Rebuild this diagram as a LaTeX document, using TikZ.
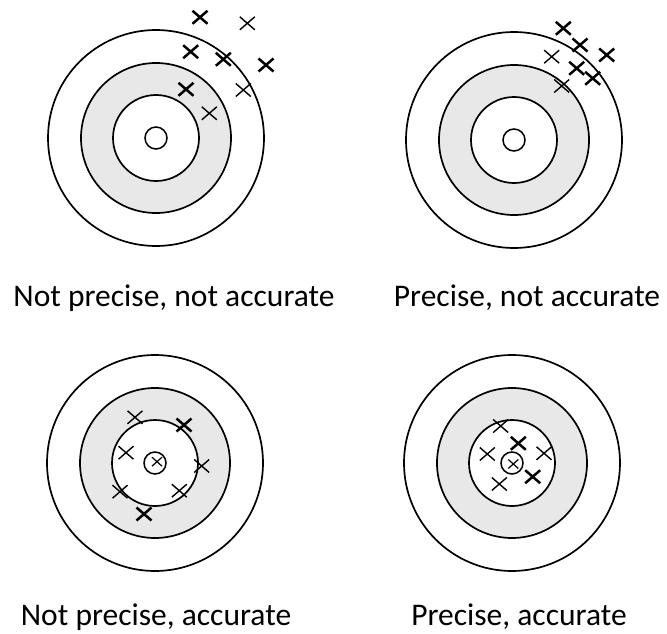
\documentclass[tikz,border=0pt]{standalone}
\usepackage{fontspec}
\setmainfont{Carlito}
\definecolor{ringgray}{RGB}{232,232,232}
\tikzset{
  ring/.style={draw=black, line width=1.7pt},
  boldx/.pic={\draw[line width=2.5pt] (-7.5,-6.5) -- (7.5,6.5) (-7.5,6.5) -- (7.5,-6.5);},
  thinx/.pic={\draw[line width=1.4pt] (-7.5,-6.5) -- (7.5,6.5) (-7.5,6.5) -- (7.5,-6.5);},
  smallx/.pic={\draw[line width=1.2pt] (-5,-4.5) -- (5,4.5) (-5,4.5) -- (5,-4.5);},
  lbl/.style={anchor=base, inner sep=0pt, font=\fontsize{31.5}{37}\selectfont}
}
\newcommand{\target}[1]{%
  \draw[ring] (#1) circle[radius=108pt];
  \draw[ring, fill=ringgray] (#1) circle[radius=75pt];
  \draw[ring, fill=white] (#1) circle[radius=43pt];
  \draw[ring, line width=1.5pt] (#1) circle[radius=11pt];
}
\begin{document}
\begin{tikzpicture}[x=1pt, y=-1pt]
\useasboundingbox (0,0) rectangle (667,634);
\fill[white] (0,0) rectangle (667,634);
\coordinate (c1) at (156,138);
\coordinate (c2) at (514,140);
\coordinate (c3) at (155,463);
\coordinate (c4) at (512,463);
\target{c1}
\target{c2}
\target{c3}
\target{c4}
% target 1: not precise, not accurate
\pic at (200,17.3) {boldx};
\pic at (247.3,23.3) {thinx};
\pic at (190.7,51.7) {boldx};
\pic at (223.3,59.3) {boldx};
\pic at (266,65) {boldx};
\pic at (186,89.3) {boldx};
\pic at (243.3,90) {thinx};
\pic at (209.3,113.3) {thinx};
% target 2: precise, not accurate
\pic at (563.3,28.3) {boldx};
\pic at (580,45) {boldx};
\pic at (551.7,56.7) {thinx};
\pic at (606.7,55) {boldx};
\pic at (576.7,68.3) {boldx};
\pic at (592.7,78.3) {boldx};
\pic at (561.7,86) {thinx};
% target 3: not precise, accurate
\pic at (135,417.3) {thinx};
\pic at (184,425) {boldx};
\pic at (126,452.7) {thinx};
\pic at (201.7,466) {thinx};
\pic at (157,461.7) {smallx};
\pic at (120,491.7) {thinx};
\pic at (179.3,490.7) {thinx};
\pic at (144,514) {boldx};
% target 4: precise, accurate
\pic at (500.7,426) {thinx};
\pic at (518.3,443.3) {boldx};
\pic at (487.3,454) {thinx};
\pic at (544,453.3) {thinx};
\pic at (513.3,464) {smallx};
\pic at (532.7,476.7) {boldx};
\pic at (499.3,484) {thinx};
% labels
\node[lbl] (l1) at (174,306.7) {Not precise, not accurate};
\node[lbl] (l2) at (527,306.7) {Precise, not accurate};
\node[lbl] (l3) at (156,625.7) {Not precise, accurate};
\node[lbl] (l4) at (519,625.7) {Precise, accurate};
\end{tikzpicture}
\end{document}
